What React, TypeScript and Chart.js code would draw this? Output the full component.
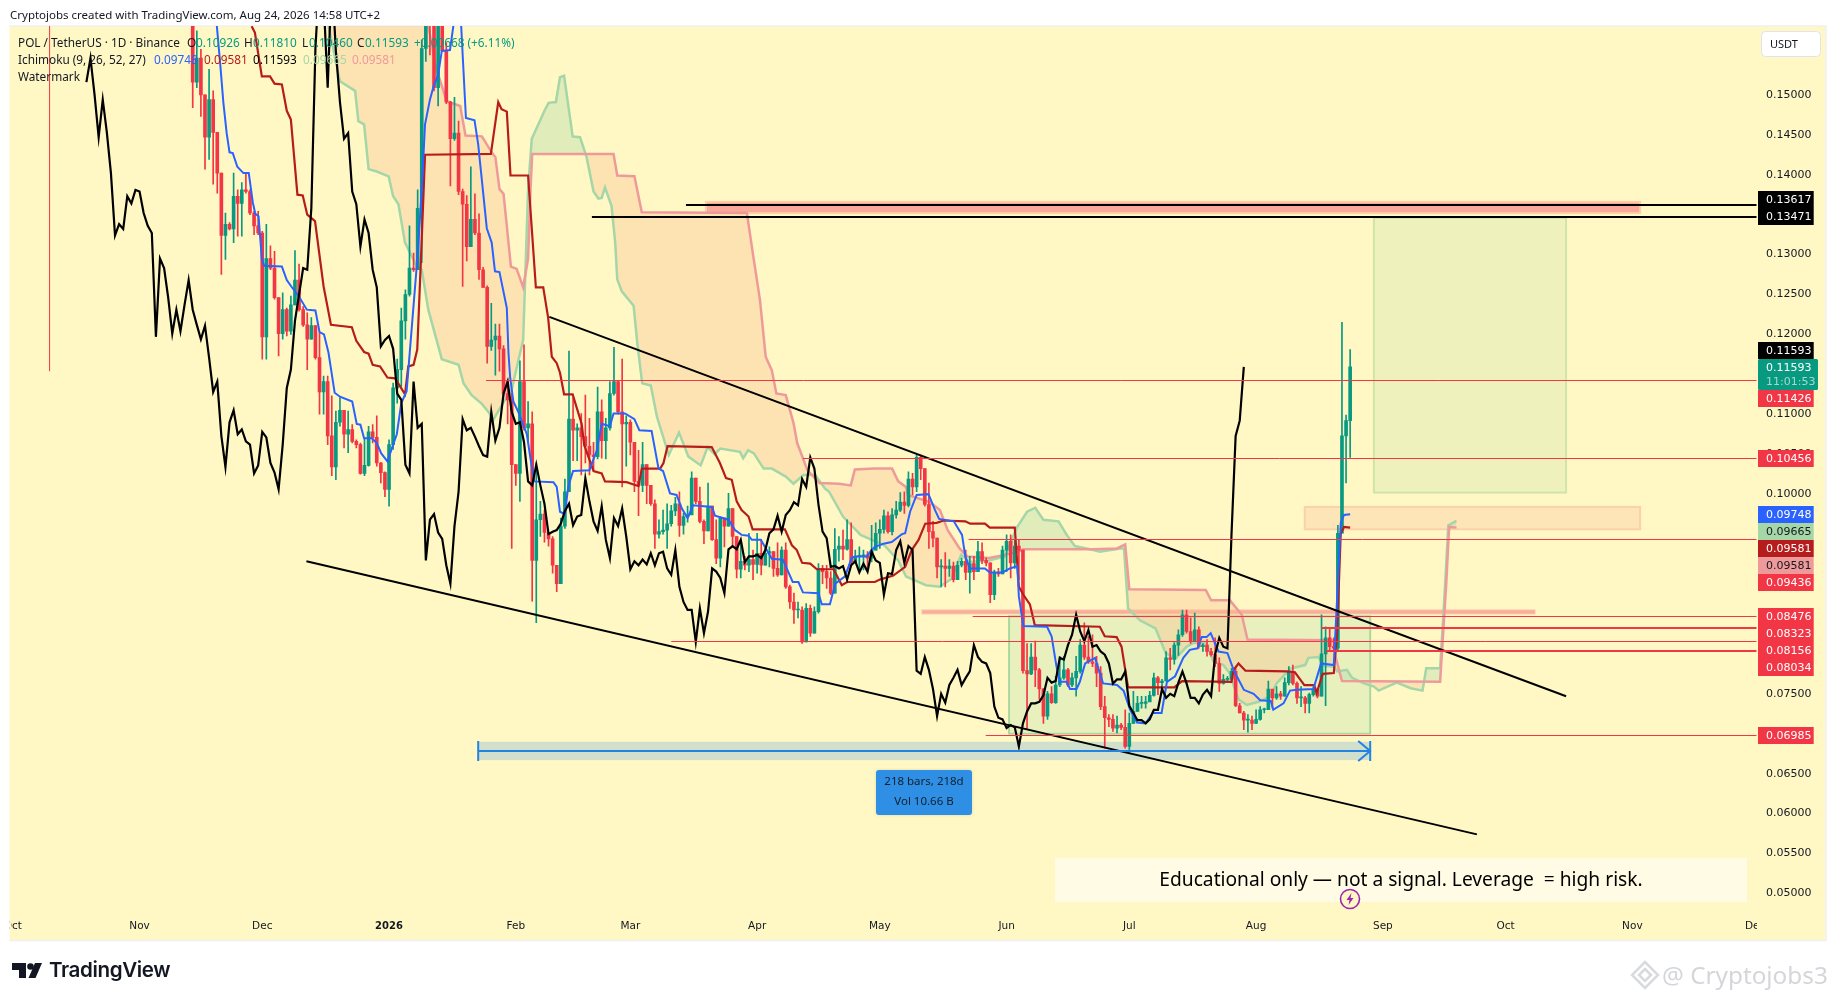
import React, { useEffect, useRef } from "react";
import { Chart, registerables } from "chart.js";

Chart.register(...registerables);

// ---------- candles (one per day, day 0 = 1 Jan 2026) ----------
const firstDay = -48;
const firstOpen = 0.1607;
const closes = [
  .1516,.1546,.1500,.1447,.1494,.1453,.1402,.1324,.1338,.1332,
  .1373,.1364,.1381,.1379,.1352,.1336,.1327,.1197,.1295,.1283,
  .1246,.1201,.1231,.1204,.1237,.1268,.1231,.1212,.1194,.1211,
  .1171,.1128,.1141,.1073,.1034,.1090,.1105,.1075,.1081,.1066,
  .1062,.1026,.1036,.1078,.1071,.1039,.1027,.1006,.1062,.1133,
  .1156,.1217,.1250,.1283,.1281,.1358,.1558,
  .1650,.1620,.1509,.1650,.1555,.1491,.1445,.1452,.1379,.1363,
  .1310,.1344,.1327,.1281,.1259,.1185,.1193,.1198,.1182,.1126,
  .1118,.1037,.1026,.1141,.1083,.1088,.0917,.0968,.0975,.0952,
  .0944,.0911,.0888,.0960,.1003,.1094,.1080,.1083,
  .1072,.1060,.1049,.1047,.1103,.1067,.1083,.1126,.1141,.1103,.1088,.1090,.1065,.1016,.1011,.1037,.1011,.0988,.0950,.0953,.0955,.0963,.0979,.0988,
  .0961,.0972,.0974,.1020,.0991,.0966,.0954,.0985,.0943,.0920,
  .0970,.0960,.0982,.0947,.0906,.0916,.0911,.0918,.0912,.0926,
  .0911,.0926,.0928,.0907,.0899,.0930,.0884,.0865,.0855,.0855,
  .0815,.0857,.0826,.0853,.0907,.0903,.0895,.0876,.0931,.0935,
  .0931,.0943,.0915,.0922,.0922,.0924,.0920,.0930,.0951,.0956,
  .0973,.0953,.0974,.0980,.0990,.0986,.1019,.1009,.1046,.1032,
  .0987,.0953,.0945,.0909,.0910,.0907,.0910,.0893,.0911,.0916,.0902,
  .0913,.0903,.0928,.0917,.0914,.0874,.0901,.0900,.0930,.0941,
  .0914,.0935,.0930,.0779,.0775,.0796,.0780,.0756,.0722,.0750,
  .0739,.0761,.0770,.0780,.0761,.0770,.0778,.0811,.0796,.0790,
  .0788,.0776,.0734,.0720,.0718,.0707,.0711,.0708,.0684,.0713,
  .0728,.0738,.0738,.0740,.0748,.0770,.0764,.0766,.0795,.0793,
  .0811,.0824,.0849,.0828,.0816,.0830,.0809,.0811,.0803,.0799,
  .0788,.0763,.0768,.0768,.0778,.0735,.0726,.0717,.0717,.0713,
  .0718,.0730,.0730,.0756,.0745,.0750,.0747,.0764,.0778,.0763,
  .0745,.0745,.0738,.0749,.0755,.0747,.0800,.0820,.0809,.0807,
  .0951,.1073,.1092,.11593,
];
const highs = [
  .1650,.1580,.1557,.1500,.1532,.1505,.1453,.1402,.1352,.1340,
  .1402,.1381,.1390,.1402,.1381,.1354,.1354,.1329,.1338,.1311,
  .1304,.1246,.1252,.1233,.1248,.1305,.1288,.1235,.1227,.1221,
  .1211,.1202,.1148,.1148,.1123,.1104,.1121,.1104,.1104,.1087,
  .1068,.1064,.1070,.1085,.1087,.1098,.1040,.1028,.1068,.1139,
  .1169,.1233,.1256,.1336,.1302,.1381,.1569,
  .1700,.1700,.1660,.1700,.1680,.1565,.1492,.1497,.1467,.1382,
  .1374,.1410,.1376,.1351,.1284,.1261,.1239,.1213,.1213,.1186,
  .1141,.1126,.1037,.1167,.1187,.1116,.1103,.1039,.0991,.0980,
  .0952,.0947,.0911,.0970,.1019,.1179,.1121,.1088,
  .1101,.1124,.1095,.1065,.1134,.1118,.1095,.1141,.1184,.1141,.1169,.1098,.1093,.1052,.1055,.1065,.1037,.1011,.0993,.0968,.0980,.0988,.0986,.0996,
  .1003,.0976,.0985,.1028,.1020,.1009,.0968,.1014,.0985,.0968,
  .0972,.0970,.1001,.0982,.0947,.0939,.0922,.0951,.0930,.0951,
  .0943,.0932,.0934,.0928,.0939,.0934,.0939,.0886,.0876,.0865,
  .0859,.0863,.0861,.0859,.0913,.0911,.0911,.0903,.0957,.0947,
  .0955,.0968,.0964,.0930,.0934,.0930,.0928,.0961,.0964,.0968,
  .0980,.0978,.0982,.0991,.1002,.1003,.1028,.1026,.1049,.1049,
  .1032,.1014,.0966,.0945,.0918,.0927,.0918,.0915,.0916,.0920,.0930,
  .0922,.0922,.0941,.0939,.0920,.0914,.0905,.0907,.0935,.0949,
  .0949,.0943,.0943,.0930,.0813,.0813,.0816,.0782,.0757,.0753,
  .0759,.0772,.0797,.0797,.0782,.0776,.0797,.0818,.0839,.0822,
  .0824,.0797,.0784,.0747,.0724,.0724,.0722,.0713,.0730,.0726,
  .0753,.0747,.0747,.0747,.0753,.0776,.0772,.0768,.0803,.0807,
  .0814,.0830,.0855,.0855,.0845,.0851,.0834,.0813,.0818,.0807,
  .0820,.0795,.0774,.0772,.0782,.0783,.0738,.0728,.0724,.0722,
  .0730,.0734,.0732,.0766,.0755,.0759,.0753,.0770,.0784,.0786,
  .0765,.0759,.0747,.0751,.0759,.0757,.0849,.0834,.0832,.0820,
  .0961,.1215,.1099,.1181,
];
const lows = [
  .1484,.1509,.1473,.1407,.1419,.1388,.1377,.1275,.1294,.1331,
  .1315,.1323,.1323,.1377,.1350,.1325,.1325,.1169,.1169,.1281,
  .1244,.1173,.1194,.1198,.1200,.1237,.1229,.1210,.1156,.1194,
  .1169,.1100,.1100,.1062,.1023,.1018,.1085,.1058,.1052,.1064,
  .1058,.1025,.1023,.1035,.1064,.1035,.1014,.0997,.0985,.1056,
  .1114,.1135,.1194,.1248,.1279,.1281,.1290,
  .1542,.1550,.1505,.1486,.1555,.1489,.1386,.1443,.1375,.1260,
  .1292,.1310,.1325,.1269,.1259,.1164,.1180,.1149,.1154,.1123,
  .1088,.0932,.1011,.0991,.1080,.1065,.0866,.0839,.0947,.0940,
  .0935,.0901,.0878,.0888,.0957,.1003,.1042,.1042,
  .1024,.1039,.1024,.1030,.1044,.1045,.1044,.1080,.1124,.1100,.1009,.1035,.1049,.1003,.0973,.1003,.0988,.0986,.0932,.0945,.0950,.0932,.0960,.0973,
  .0947,.0950,.0965,.0976,.0988,.0964,.0938,.0954,.0942,.0913,
  .0909,.0934,.0960,.0934,.0895,.0895,.0905,.0903,.0893,.0901,
  .0899,.0911,.0909,.0897,.0897,.0899,.0882,.0857,.0838,.0845,
  .0813,.0815,.0822,.0826,.0851,.0888,.0882,.0874,.0876,.0916,
  .0918,.0930,.0911,.0913,.0903,.0905,.0905,.0915,.0930,.0932,
  .0951,.0951,.0949,.0970,.0978,.0976,.0984,.0999,.1003,.1018,
  .0985,.0932,.0934,.0895,.0884,.0884,.0897,.0890,.0893,.0909,.0893,
  .0876,.0893,.0903,.0913,.0910,.0864,.0868,.0897,.0900,.0903,
  .0895,.0907,.0893,.0776,.0705,.0774,.0759,.0743,.0713,.0718,
  .0738,.0738,.0759,.0768,.0759,.0759,.0747,.0776,.0793,.0788,
  .0784,.0759,.0730,.0682,.0709,.0703,.0701,.0705,.0682,.0675,
  .0713,.0728,.0732,.0732,.0741,.0747,.0749,.0757,.0766,.0780,
  .0787,.0798,.0822,.0826,.0813,.0816,.0807,.0803,.0797,.0797,
  .0784,.0753,.0762,.0766,.0766,.0734,.0726,.0705,.0702,.0705,
  .0713,.0717,.0726,.0730,.0732,.0743,.0743,.0747,.0761,.0761,
  .0738,.0734,.0726,.0726,.0747,.0745,.0747,.0735,.0805,.0805,
  .0805,.0951,.1014,.1046,
];
const laggingShift = 26;

// ---------- Ichimoku lines: [day, price] ----------
const conversionDays = [-43,-42.1,-41.3,-40.5,-39.7,-39,-38.2,-37.1,-35.6,-34.3,-33.3,-32.7,-31.9,-31.1,-30.5,-26.2,-25,-23.9,-22.1,-20.1,-18,-17,-15.9,-14.8,-13.3,-12,-9,-7.9,-7,-6.1,-4.2,-3,-1.9,-.4,1,1.9,3,4.3,7,8,8.8,10,10.8,12,12.9,14.9,16.1,17.5,18.8,20.9,21.8,23.9,25.1,25.9,27,28.8,29.2,29.6,30.4,31.6,33.7,34.6,35.5,40.2,41,41.8,43,43.8,45,49,50.8,52,54,54.9,57.7,60,61.2,64.2,65.9,67,68.7,70.3,71.6,73,74.3,79,79.7,83,84.6,86.2,87.9,88.7,90.9,93.6,96.3,98.7,100.1,101.2,105,105.8,107.8,109.1,111.5,113.1,113.9,116.8,118,118.8,120.9,122.9,125.4,126.2,127.4,129,131.9,133.5,134.5,138.1,140.1,140.9,142,145.7,146.9,150,151.8,153.6,154,155.1,160.9,162,163.2,164,165.7,166.5,168.1,168.9,170.2,172.6,173.8,174.6,178,179.6,181.2,182.9,185,186.7,188.9,190.2,192.2,194.2,195.8,197.7,198.7,199.9,200.9,202.8,205,206.5,209,211.4,213,215.6,216.2,218.7,220.3,222,226,227.9,231,231.8,232.7,233.5,235];
const conversionPrices = [.1650,.1586,.1540,.1490,.1452,.1428,.1427,.1410,.1402,.1402,.1365,.1351,.1348,.1294,.1286,.1285,.1268,.1260,.1248,.1231,.1230,.1203,.1200,.1177,.1127,.1122,.1116,.1088,.1087,.1070,.1070,.1064,.1051,.1041,.1062,.1075,.1114,.1129,.1300,.1382,.1463,.1494,.1509,.1525,.1555,.1556,.1600,.1600,.1471,.1468,.1438,.1333,.1315,.1279,.1278,.1233,.1177,.1147,.1116,.1103,.1075,.1044,.1016,.1015,.1009,.0978,.0975,.1009,.1029,.1030,.1055,.1088,.1085,.1101,.1101,.1094,.1080,.1079,.1032,.1029,.1001,.0999,.0982,.0970,.0986,.0984,.0973,.0968,.0955,.0949,.0948,.0943,.0943,.0919,.0918,.0890,.0890,.0877,.0876,.0862,.0862,.0888,.0897,.0920,.0922,.0922,.0930,.0934,.0938,.0940,.0950,.0951,.0978,.0999,.1000,.0980,.0969,.0966,.0949,.0922,.0907,.0907,.0902,.0902,.0907,.0910,.0872,.0835,.0834,.0822,.0784,.0765,.0765,.0756,.0756,.0765,.0788,.0795,.0776,.0763,.0761,.0754,.0730,.0714,.0713,.0726,.0726,.0765,.0772,.0795,.0805,.0807,.0821,.0821,.0826,.0803,.0801,.0780,.0755,.0750,.0742,.0741,.0730,.0738,.0754,.0755,.0756,.0788,.0786,.0868,.0964,.0974,.09748];

const baseDays = [-33.6,-32.8,-31.1,-29.1,-28,-26.2,-25,-24,-22.4,-21.1,-20,-18.1,-16,-14.2,-9.1,-8,-6.1,-5,-4,-2.2,-.4,1.5,3.9,4.7,6,6.9,7.8,8.8,24.9,26.7,27.5,28.8,29.7,34,35.9,37.7,38.9,39.8,41,41.8,42.8,44.9,45.9,47.1,47.7,50,52,52.8,58.1,61,61.8,66.3,67.1,68.1,78.9,80.9,82.4,83.8,85,86.2,87.9,88.9,96.8,98.5,99.7,101,103,104.6,108.7,110.7,112,118.8,120,123.3,126.2,127.8,129.5,131.1,133.9,135.6,140.9,142.1,145.7,146.9,153,154,155.1,156.7,157.9,173.8,175,177.9,179.1,180.7,192,193.9,206,206.5,207.7,209.4,219.5,221.5,223.8,226.2,226.8,228.3,231,231.8,232.7,233.5,235];
const basePrices = [.1586,.1578,.1523,.1523,.1514,.1513,.1480,.1469,.1375,.1374,.1350,.1342,.1260,.1212,.1209,.1192,.1178,.1176,.1162,.1160,.1146,.1145,.1125,.1160,.1162,.1181,.1294,.1425,.1426,.1491,.1482,.1479,.1399,.1399,.1259,.1259,.1221,.1172,.1164,.1152,.1125,.1125,.1108,.1088,.1062,.1029,.1026,.1016,.1015,.1010,.1032,.1032,.1039,.1060,.1059,.1039,.1020,.1018,.0991,.0980,.0972,.0956,.0956,.0936,.0930,.0914,.0913,.0906,.0906,.0886,.0890,.0890,.0893,.0898,.0909,.0930,.0943,.0963,.0964,.0967,.0966,.0963,.0963,.0958,.0958,.0884,.0874,.0862,.0836,.0834,.0822,.0821,.0809,.0758,.0758,.0766,.0765,.0780,.0788,.0779,.0778,.0777,.0761,.0761,.0751,.0775,.0776,.0826,.0951,.0959,.09581];

const spanADays = [-17,-14.8,-12,-8.3,-7.5,-6.1,-5,-3,-.1,1,2.3,3.9,6.8,8,9.6,12.9,17,18.2,20.2,22.7,24.3,25.5,27.5,30,31.6,32.8,34,34.9,38.1,39,40.8,41.8,42.8,44.9,46.7,48.3,50,51.2,52,52.8,54.4,55.3,55.8,56.9,59.8,60.7,61.9,64,65.5,68.4,70.9,73.2,76.2,77.9,79.6,81,85.8,86.6,87.8,89.2,91.6,93.6,97,98.9,101.3,104.2,106.6,107.6,111,115.3,121.1,124.5,126.4,131.3,134.6,137.5,139.9,141.9,146.7,150.6,153.5,156,158,160,163.7,165.7,167.7,172.2,173.8,178.8,179.7,180.7,183.6,187.4,189.9,192.3,195,196.8,199.9,201.5,204,205.5,207.7,209.7,212.6,215.4,217,219,220.7,224,224.8,227.2,228.6,231,231.8,234.2,235.5,238.4,240.8,242,243.3,246.4,249.8,252.7,253.6,257,258,259,261];
const spanAPrices = [.1650,.1586,.1517,.1505,.1467,.1463,.1407,.1404,.1398,.1373,.1363,.1315,.1285,.1281,.1231,.1169,.1162,.1139,.1124,.1113,.1103,.1093,.1111,.1131,.1167,.1193,.1382,.1445,.1481,.1490,.1491,.1522,.1524,.1448,.1447,.1422,.1379,.1370,.1371,.1384,.1361,.1315,.1269,.1254,.1236,.1189,.1139,.1136,.1097,.1049,.1077,.1047,.1036,.1059,.1050,.1057,.1053,.1045,.1055,.1051,.1032,.1032,.1022,.1013,.1024,.1024,.1007,.1003,.0972,.0949,.0936,.0917,.0897,.0886,.0884,.0894,.0924,.0915,.0917,.0922,.0958,.0978,.0983,.0968,.0966,.0949,.0935,.0930,.0928,.0932,.0932,.0857,.0842,.0832,.0801,.0794,.0809,.0814,.0813,.0791,.0786,.0776,.0743,.0736,.0740,.0747,.0763,.0774,.0782,.0786,.0795,.0796,.0785,.0784,.0778,.0780,.0770,.0763,.0759,.0754,.0757,.0764,.0757,.0754,.0782,.0782,.0867,.0961,.09665];

const spanBDays = [-17,8,9.6,11.6,14.1,17.4,18.7,22.7,25.1,26,27,28,29.8,31.2,32.8,34,34.6,35,54.9,55.8,60,61.8,87.5,89,90.7,92.1,93.6,94.7,97,98.9,99.8,102.3,105.2,110,112.9,113.9,118.7,123,124.5,126.4,126.9,132.2,134.7,136.6,139.5,141.4,146.7,150.6,153.9,155.1,172.2,178,180,181,199.7,201,205.6,208.5,209.9,231,231.4,233,257,258.5,259.2,261];
const spanBPrices = [.1800,.1650,.1586,.1532,.1492,.1486,.1449,.1448,.1428,.1422,.1382,.1376,.1285,.1282,.1259,.1295,.1382,.1426,.1426,.1399,.1398,.1353,.1352,.1300,.1243,.1172,.1155,.1126,.1124,.1089,.1064,.1030,.1014,.1013,.1011,.1031,.1032,.1032,.1016,.1009,.0999,.0990,.0980,.0955,.0932,.0922,.0920,.0924,.0928,.0931,.0931,.0932,.0937,.0881,.0880,.0867,.0867,.0849,.0818,.0817,.0797,.0766,.0765,.0888,.0959,.09581];

// ---------- drawings ----------
const upperTrendDays = [39.2, 287.8];
const upperTrendPrices = [.1222, .0747];
const lowerTrendDays = [-20.2, 266];
const lowerTrendPrices = [.0916, .0574];
const markerDay = -83;
const markerPrices = [.1154, .17];

const levelPrices = [.11426,.10456,.09436,.08476,.08323,.08156,.08034,.06985];
const levelStartDays = [23.7,101.2,141.7,142.7,227.9,69,229.1,145.9];
const blackLevelPrices = [.13617,.13471];
const blackLevelStartDays = [72.6,49.6];

// [firstDay, lastDay, topPrice, bottomPrice]
const bigZone = [77.5,305.9,.1366,.1352];
const thinZone = [130.3,280.2,.0855,.0850];
const orangeZone = [223.9,305.9,.0984,.0956];
const targetZone = [240.8,287.8,.1346,.1002];
const rangeZone = [151.6,239.9,.0847,.0700];
const dateRange = [21.8,239.9,.0690,.0667];
const dateRangeLinePrice = .0678;

const priceTicks = [.05,.055,.06,.065,.07,.075,.08,.085,.09,.095,.10,.105,.11,.115,.12,.125,.13,.135,.14,.145,.15];
const monthDays = [-92,-61,-31,0,31,59,90,120,151,181,212,243,273,304,334];
const monthLabels = ["Oct","Nov","Dec","2026","Feb","Mar","Apr","May","Jun","Jul","Aug","Sep","Oct","Nov","Dec"];

const tagTexts = ["0.13617","0.13471","0.11593","0.11426","0.10456","0.09748","0.09665","0.09581","0.09581","0.09436","0.08476","0.08323","0.08156","0.08034","0.06985"];

// ---------- styles ----------
const GREEN = "#089981";
const RED = "#F23645";
const tagStyles = [
  { top: 191, bg: "#000", fg: "#fff" }, { top: 208, bg: "#000", fg: "#fff" },
  { top: 342, bg: "#000", fg: "#fff" }, { top: 390, bg: RED, fg: "#fff" },
  { top: 450, bg: RED, fg: "#fff" }, { top: 506, bg: "#2962FF", fg: "#fff" },
  { top: 523, bg: "#A5D6A7", fg: "#131722" }, { top: 540, bg: "#B71C1C", fg: "#fff" },
  { top: 557, bg: "#EF9A9A", fg: "#131722" }, { top: 574, bg: RED, fg: "#fff" },
  { top: 608, bg: RED, fg: "#fff" }, { top: 625, bg: RED, fg: "#fff" },
  { top: 642, bg: RED, fg: "#fff" }, { top: 659, bg: RED, fg: "#fff" },
  { top: 727, bg: RED, fg: "#fff" },
];
const levelWidths = [1,1,1,1,2,1,2,1];
const AXIS_FONT = '"DejaVu Sans", sans-serif';
const PANE = "#FFF8C5";

function pairs(days: number[], prices: number[]) {
  return days.map((d, i) => ({ x: d, y: prices[i] }));
}

const opens = closes.map((_, i) => (i === 0 ? firstOpen : closes[i - 1]));
const candleDays = closes.map((_, i) => firstDay + i);
const candleColors = closes.map((c, i) => (c >= opens[i] ? GREEN : RED));

const drawPlugin = {
  id: "drawings",
  beforeDraw(chart: any) {
    const { ctx } = chart;
    ctx.save();
    ctx.fillStyle = "#fff";
    ctx.fillRect(0, 0, 1835, 1000);
    ctx.fillStyle = PANE;
    ctx.fillRect(9.5, 26, 1816, 914);
    ctx.strokeStyle = "#EFEFEF";
    ctx.lineWidth = 1.5;
    ctx.beginPath();
    ctx.moveTo(9.5, 26); ctx.lineTo(1826, 26); ctx.lineTo(1826, 940.5); ctx.lineTo(9.5, 940.5);
    ctx.stroke();
    ctx.restore();
  },
  beforeDatasetsDraw(chart: any) {
    const { ctx, scales } = chart;
    const x = scales.x, y = scales.y;
    const box = (z: number[], fill: string, stroke: string | null, lw: number) => {
      const l = x.getPixelForValue(z[0]), r = x.getPixelForValue(z[1]);
      const t = y.getPixelForValue(z[2]), b = y.getPixelForValue(z[3]);
      ctx.fillStyle = fill;
      ctx.fillRect(l, t, r - l, b - t);
      if (stroke) {
        ctx.strokeStyle = stroke;
        ctx.lineWidth = lw;
        ctx.strokeRect(l, t, r - l, b - t);
      }
    };
    ctx.save();
    box(targetZone, "#EEF1BB", "#CFE5A8", 2);
    box(rangeZone, "rgba(165,214,167,0.25)", "#A9D8A0", 2);
    box(dateRange, "#D1E0CC", null, 0);
    box(orangeZone, "#FDE5B8", "#FBD0AC", 2);
    box(thinZone, "#F9AE9C", "#FBC4A6", 1);
    box(bigZone, "#F9A89A", "#FDCFA8", 2);
    ctx.restore();
  },
  afterDatasetsDraw(chart: any) {
    const { ctx, scales, chartArea } = chart;
    const x = scales.x, y = scales.y;
    ctx.save();
    // horizontal levels
    levelPrices.forEach((p, i) => {
      const py = Math.round(y.getPixelForValue(p)) + (levelWidths[i] === 1 ? 0.5 : 0);
      ctx.strokeStyle = RED;
      ctx.lineWidth = levelWidths[i];
      ctx.beginPath();
      ctx.moveTo(x.getPixelForValue(levelStartDays[i]), py);
      ctx.lineTo(chartArea.right - 1, py);
      ctx.stroke();
    });
    blackLevelPrices.forEach((p, i) => {
      const py = Math.round(y.getPixelForValue(p));
      ctx.strokeStyle = "#000";
      ctx.lineWidth = 2;
      ctx.beginPath();
      ctx.moveTo(x.getPixelForValue(blackLevelStartDays[i]), py);
      ctx.lineTo(chartArea.right - 1, py);
      ctx.stroke();
    });
    // date range arrow
    const l = x.getPixelForValue(dateRange[0]), r = x.getPixelForValue(dateRange[1]);
    const ly = Math.round(y.getPixelForValue(dateRangeLinePrice));
    ctx.strokeStyle = "#2483E0";
    ctx.lineWidth = 2;
    ctx.beginPath();
    ctx.moveTo(l, ly); ctx.lineTo(r, ly);
    ctx.moveTo(l, ly - 10); ctx.lineTo(l, ly + 10);
    ctx.moveTo(r - 12, ly - 10); ctx.lineTo(r, ly); ctx.lineTo(r - 12, ly + 10);
    ctx.moveTo(r, ly - 10); ctx.lineTo(r, ly + 10);
    ctx.stroke();
    // date range label
    ctx.fillStyle = "#2F8FE5";
    ctx.shadowColor = "rgba(0,0,0,0.15)";
    ctx.shadowBlur = 3;
    ctx.beginPath();
    ctx.roundRect(876, 770, 96, 45, 3);
    ctx.fill();
    ctx.shadowBlur = 0;
    ctx.fillStyle = "#10202E";
    ctx.font = '11.5px "Noto Sans", sans-serif';
    ctx.textAlign = "center";
    ctx.textBaseline = "middle";
    ctx.fillText("218 bars, 218d", 924, 782);
    ctx.fillText("Vol 10.66 B", 924, 802);
    // note box
    ctx.fillStyle = "#FFFBE4";
    ctx.fillRect(1055, 858, 692, 44);
    ctx.fillStyle = "#000";
    ctx.font = '19.2px "Noto Sans", sans-serif';
    ctx.fillText("Educational only — not a signal. Leverage  = high risk.", 1401, 881);
    ctx.restore();
  },
  afterDraw(chart: any) {
    const { ctx } = chart;
    ctx.save();
    // axis labels are cut by the pane edges
    ctx.fillStyle = PANE;
    ctx.fillRect(1757, 914, 66, 24);
    ctx.fillRect(9.5, 914, 1.5, 24);
    ctx.fillStyle = "#fff";
    ctx.fillRect(0, 914, 9.5, 24);
    ctx.font = "11px " + AXIS_FONT;
    ctx.textAlign = "left";
    ctx.textBaseline = "middle";
    tagTexts.forEach((t, i) => {
      const s = tagStyles[i];
      ctx.fillStyle = s.bg;
      ctx.fillRect(1758, s.top, 55.7, 17);
      ctx.fillStyle = s.fg;
      ctx.fillText(t, 1766, s.top + 8.7);
    });
    // last price tag with countdown
    ctx.fillStyle = GREEN;
    ctx.beginPath();
    ctx.roundRect(1758, 359, 60, 31, 1.5);
    ctx.fill();
    ctx.fillStyle = "#fff";
    ctx.fillText("0.11593", 1766, 367.7);
    ctx.fillStyle = "rgba(255,255,255,0.62)";
    ctx.fillText("11:01:53", 1766, 381.7);
    // currency button
    ctx.fillStyle = "#fff";
    ctx.strokeStyle = "#E0E3EB";
    ctx.lineWidth = 1;
    ctx.beginPath();
    ctx.roundRect(1761.5, 31.5, 59, 25, 4);
    ctx.fill();
    ctx.stroke();
    ctx.fillStyle = "#131722";
    ctx.font = '11px "Noto Sans", sans-serif';
    ctx.fillText("USDT", 1770, 44.5);
    ctx.restore();
  },
};

const legendStyle: any = { position: "absolute", whiteSpace: "pre", fontFamily: '"Noto Sans", sans-serif', fontSize: 11.8, lineHeight: "16px", color: "#131722" };
const legendSpans: [string, number, number, string][] = [
  ["POL / TetherUS · 1D · Binance", 18, 34, "#131722"],
  ["O", 187, 34, "#131722"], ["0.10926", 196, 34, GREEN],
  ["H", 244, 34, "#131722"], ["0.11810", 253, 34, GREEN],
  ["L", 302, 34, "#131722"], ["0.10460", 309, 34, GREEN],
  ["C", 357, 34, "#131722"], ["0.11593", 365, 34, GREEN],
  ["+0.00668 (+6.11%)", 414, 34, GREEN],
  ["Ichimoku (9, 26, 52, 27)", 18, 51, "#131722"],
  ["0.09748", 154, 51, "#2962FF"], ["0.09581", 204, 51, "#B71C1C"],
  ["0.11593", 253, 51, "#000"], ["0.09665", 303, 51, "#A5D6A7"],
  ["0.09581", 352, 51, "#EF9A9A"],
  ["Watermark", 18, 68, "#131722"],
];

export default function App() {
  const ref = useRef<HTMLCanvasElement>(null);
  useEffect(() => {
    if (!ref.current) return;
    const chart = new Chart(ref.current, {
      type: "bar",
      plugins: [drawPlugin],
      data: {
        datasets: [
          { type: "line", label: "Span B", data: pairs(spanBDays, spanBPrices), borderColor: "#EF9A9A", borderWidth: 2.5, pointRadius: 0, tension: 0, order: 4.5 },
          { type: "line", label: "Span A", data: pairs(spanADays, spanAPrices), borderColor: "#A5D6A7", borderWidth: 2.5, pointRadius: 0, tension: 0, order: 5,
            fill: { target: 0, above: "rgba(165,214,167,0.35)", below: "rgba(245,190,140,0.35)" } },
          { label: "Wicks", data: candleDays.map((d, i) => ({ x: d, y: [lows[i], highs[i]] })), backgroundColor: candleColors, barThickness: 1, grouped: false, order: 4 },
          { label: "Bodies", data: candleDays.map((d, i) => ({ x: d, y: [opens[i], closes[i]] })), backgroundColor: candleColors, barThickness: 3, minBarLength: 1, grouped: false, order: 3 },
          { type: "line", label: "Base", data: pairs(baseDays, basePrices), borderColor: "#B71C1C", borderWidth: 2.2, pointRadius: 0, tension: 0, order: 2 },
          { type: "line", label: "Conversion", data: pairs(conversionDays, conversionPrices), borderColor: "#2962FF", borderWidth: 2, pointRadius: 0, tension: 0, order: 1 },
          { type: "line", label: "Lagging", data: candleDays.map((d, i) => ({ x: d - laggingShift, y: closes[i] })), borderColor: "#000", borderWidth: 2.2, pointRadius: 0, tension: 0, order: 0 },
          { type: "line", label: "Upper trend", data: pairs(upperTrendDays, upperTrendPrices), borderColor: "#000", borderWidth: 2, pointRadius: 0, order: -1 },
          { type: "line", label: "Lower trend", data: pairs(lowerTrendDays, lowerTrendPrices), borderColor: "#000", borderWidth: 2, pointRadius: 0, order: -1 },
          { type: "line", label: "Marker", data: markerPrices.map((p) => ({ x: markerDay, y: p })), borderColor: RED, borderWidth: 1, pointRadius: 0, order: -1 },
        ] as any,
      },
      options: {
        responsive: false,
        animation: false,
        layout: { padding: { left: 9.5, right: 9.5, top: 26, bottom: 60 } },
        plugins: { legend: { display: false }, tooltip: { enabled: false } },
        scales: {
          x: {
            type: "linear",
            offset: false,
            min: -92.8,
            max: 334.6,
            grid: { display: false, drawTicks: false },
            border: { display: false },
            afterFit: (s: any) => { s.height = 28; s.paddingLeft = 0; s.paddingRight = 0; },
            afterBuildTicks: (s: any) => { s.ticks = monthDays.map((value) => ({ value })); },
            ticks: {
              autoSkip: false,
              maxRotation: 0,
              padding: 8,
              color: "#131722",
              font: (c: any) => ({ family: AXIS_FONT, size: c.tick && c.tick.value === 0 ? 10 : 10.5, weight: c.tick && c.tick.value === 0 ? "bold" : "normal" }),
              callback: (_: any, i: number) => monthLabels[i],
            },
          },
          y: {
            type: "linear",
            position: "right",
            min: 0.04768,
            max: 0.15862,
            grid: { display: false, drawTicks: false },
            border: { display: false },
            afterFit: (s: any) => { s.width = 68; s.paddingTop = 0; s.paddingBottom = 0; },
            afterBuildTicks: (s: any) => { s.ticks = priceTicks.map((value) => ({ value })); },
            ticks: {
              padding: 8.5,
              color: "#131722",
              font: { family: AXIS_FONT, size: 11 },
              callback: (v: any) => Number(v).toFixed(5),
            },
          },
        },
      } as any,
    });
    return () => chart.destroy();
  }, []);

  return (
    <div style={{ position: "absolute", left: 0, top: 0, width: 1835, height: 1000, overflow: "hidden", background: "#fff" }}>
      <canvas ref={ref} width={1835} height={1000} style={{ display: "block", width: 1835, height: 1000 }} />
      <div style={{ ...legendStyle, left: 10, top: 7, fontSize: 11.5, color: "#131722" }}>Cryptojobs created with TradingView.com, Aug 24, 2026 14:58 UTC+2</div>
      {legendSpans.map(([t, x, y, c], i) => (
        <div key={i} style={{ ...legendStyle, left: x, top: y, color: c }}>{t}</div>
      ))}
      <svg width={60} height={30} style={{ position: "absolute", left: 0, top: 955 }} viewBox="0 955 60 30">
        <path d="M12 963h14v15h-7v-8h-7z" fill="#131722" />
        <circle cx={30.5} cy={966.5} r={3.3} fill="#131722" />
        <path d="M35 963h7l-6.5 15h-7z" fill="#131722" />
      </svg>
      <div style={{ position: "absolute", left: 49, top: 955, fontFamily: 'Inter, sans-serif', fontWeight: 600, fontSize: 20.6, lineHeight: "30px", color: "#131722", letterSpacing: -0.4 }}>TradingView</div>
      <svg width={30} height={30} style={{ position: "absolute", left: 1630, top: 960 }} viewBox="0 0 30 30">
        <path d="M15 2L28 15L15 28L2 15Z" fill="none" stroke="#D8DADD" strokeWidth={2.5} />
        <path d="M15 9L21 15L15 21L9 15Z" fill="none" stroke="#D8DADD" strokeWidth={2.5} />
      </svg>
      <div style={{ position: "absolute", left: 1662, top: 958, fontFamily: '"Noto Sans", sans-serif', fontSize: 24.3, lineHeight: "34px", color: "#D4D6D9", whiteSpace: "pre" }}>@ Cryptojobs3</div>
      <svg width={24} height={24} style={{ position: "absolute", left: 1338, top: 887 }} viewBox="0 0 24 24">
        <circle cx={12} cy={12} r={9.5} fill="#FFF8C5" stroke="#9C27B0" strokeWidth={1.6} />
        <path d="M13.5 6L8.5 13h3l-1 5 5-7h-3z" fill="#9C27B0" />
      </svg>
    </div>
  );
}
